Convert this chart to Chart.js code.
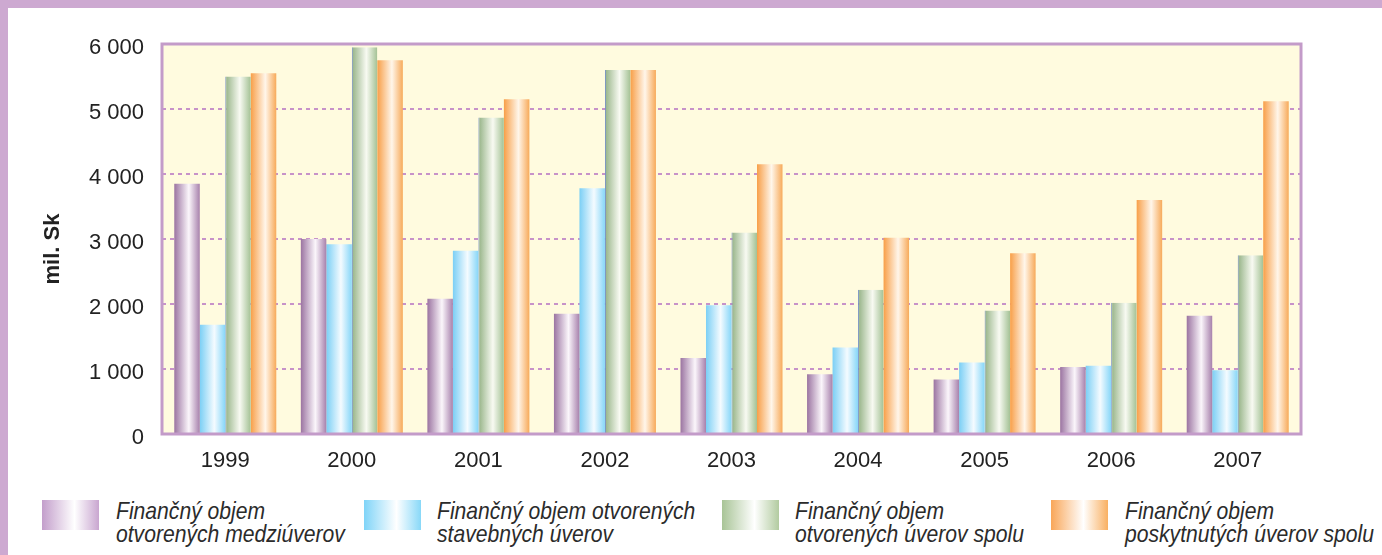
<!DOCTYPE html>
<html>
<head>
<meta charset="utf-8">
<script src="https://cdn.jsdelivr.net/npm/chart.js@4.4.1/dist/chart.umd.min.js"></script>
<style>
  body { margin: 0; background: #fff; width: 1382px; height: 555px; overflow: hidden; position: relative;
         font-family: "Liberation Sans", Arial, sans-serif; }
  #band { position: absolute; left: 0; top: 0; width: 1382px; height: 8px; background: #cda9d1; }
  #strip { position: absolute; left: 0; top: 0; width: 8px; height: 555px; background: #cda9d1; }
  #wrap { position: absolute; left: 0; top: 0; width: 1382px; height: 490px; }
  .sw { position: absolute; top: 500px; width: 57px; height: 30px; }
  .lt { position: absolute; top: 499px; font-style: italic; font-size: 24px; line-height: 23px;
        color: #2b2b2b; white-space: nowrap; transform: scaleX(0.88); transform-origin: 0 0; }
</style>
</head>
<body>
<div id="wrap"><canvas id="chart" width="1382" height="490"></canvas></div>
<div id="band"></div>
<div id="strip"></div>
<div id="legend"></div>
<script>
// data
const years = ['1999', '2000', '2001', '2002', '2003', '2004', '2005', '2006', '2007'];
const medziuvery = [3850, 3000, 2080, 1850, 1170, 920, 840, 1030, 1820];
const stavebneUvery = [1680, 2920, 2820, 3780, 1980, 1330, 1100, 1050, 980];
const otvoreneSpolu = [5500, 5950, 4870, 5600, 3100, 2220, 1900, 2020, 2750];
const poskytnuteSpolu = [5550, 5750, 5150, 5600, 4150, 3020, 2780, 3600, 5120];
const seriesNames = [
  ['Finančný objem', 'otvorených medziúverov'],
  ['Finančný objem otvorených', 'stavebných úverov'],
  ['Finančný objem', 'otvorených úverov spolu'],
  ['Finančný objem', 'poskytnutých úverov spolu']
];
const yTickLabels = ['0', '1 000', '2 000', '3 000', '4 000', '5 000', '6 000'];

// gradient stops per series: left edge, highlight, right edge
const barStops = [
  ['#9b74a1', '#fbf6fb', '#a781ac'],
  ['#7bcff5', '#f4fbff', '#86d6f8'],
  ['#94b285', '#f8faf2', '#a3c194'],
  ['#f89f48', '#fff6ea', '#f7aa5a']
];
const swatchStops = [
  ['#c39ecb', '#ffffff', '#c9a6d0'],
  ['#7fd4f8', '#ffffff', '#88d8f8'],
  ['#a8c496', '#ffffff', '#b2cba0'],
  ['#f9a658', '#ffffff', '#f9b062']
];

const CAT_PCT = 0.806;
const FONT = '"Liberation Sans", Arial, sans-serif';

function barFill(c) {
  const stops = barStops[c.datasetIndex];
  const ch = c.chart;
  const xs = ch.scales && ch.scales.x;
  if (c.type !== 'data' || !xs) return stops[0];
  const center = xs.getPixelForValue(c.dataIndex);
  const cw = xs.getPixelForValue(1) - xs.getPixelForValue(0);
  if (!isFinite(center) || !isFinite(cw) || cw <= 0) return stops[0];
  const bw = cw * CAT_PCT / 4;
  const left = center - cw * CAT_PCT / 2 + c.datasetIndex * bw;
  const g = ch.ctx.createLinearGradient(left, 0, left + bw, 0);
  g.addColorStop(0, stops[0]);
  g.addColorStop(0.57, stops[1]);
  g.addColorStop(1, stops[2]);
  return g;
}

const frame = {
  id: 'frame',
  beforeDraw(chart) {
    const a = chart.chartArea, ctx = chart.ctx;
    ctx.save();
    ctx.fillStyle = '#fffbdf';
    ctx.fillRect(a.left, a.top, a.right - a.left, a.bottom - a.top);
    ctx.restore();
  },
  afterDatasetsDraw(chart) {
    const a = chart.chartArea, ctx = chart.ctx;
    ctx.save();
    ctx.strokeStyle = '#c39bc9';
    ctx.lineWidth = 3;
    ctx.strokeRect(a.left, a.top, a.right - a.left, a.bottom - a.top);
    ctx.restore();
  },
  afterDraw(chart) {
    const ctx = chart.ctx;
    ctx.save();
    ctx.translate(53, 249);
    ctx.rotate(-Math.PI / 2);
    ctx.font = 'bold 22px ' + FONT;
    ctx.fillStyle = '#222';
    ctx.textAlign = 'center';
    ctx.textBaseline = 'middle';
    ctx.fillText('mil. Sk', 0, 0);
    ctx.restore();
  }
};

const seriesData = [medziuvery, stavebneUvery, otvoreneSpolu, poskytnuteSpolu];

new Chart(document.getElementById('chart'), {
  type: 'bar',
  data: {
    labels: years,
    datasets: seriesData.map((d, i) => ({
      label: seriesNames[i].join(' '),
      data: d,
      backgroundColor: barFill,
      borderColor: '#7590c2',
      borderWidth: i === 2 ? { left: 1, top: 0, right: 0, bottom: 0 } : 0,
      borderSkipped: false,
      categoryPercentage: CAT_PCT,
      barPercentage: 1
    }))
  },
  options: {
    responsive: false,
    animation: false,
    layout: { padding: { top: 44, right: 81, left: 0, bottom: 0 } },
    plugins: { legend: { display: false }, tooltip: { enabled: false } },
    scales: {
      x: {
        grid: { display: false },
        border: { display: false },
        ticks: { padding: 6, color: '#222', font: { size: 22, family: FONT } },
        afterFit: s => { s.height = 56; }
      },
      y: {
        min: 0,
        max: 6000,
        afterFit: s => { s.width = 162; },
        ticks: {
          stepSize: 1000,
          padding: 18,
          labelOffset: 4,
          color: '#222',
          font: { size: 22, family: FONT },
          callback: v => yTickLabels[Math.round(v / 1000)]
        },
        grid: { color: '#c792c9', lineWidth: 2, drawTicks: false },
        border: { display: false, dash: [4, 4] }
      }
    }
  },
  plugins: [frame]
});

// legend below the plot
const swatchX = [42, 364, 722, 1051];
const textX = [116, 437, 795, 1125];
const legend = document.getElementById('legend');
seriesNames.forEach((lines, i) => {
  const s = swatchStops[i];
  const sw = document.createElement('div');
  sw.className = 'sw';
  sw.style.left = swatchX[i] + 'px';
  sw.style.background = `linear-gradient(to right, ${s[0]} 0%, ${s[1]} 57%, ${s[2]} 100%)`;
  legend.appendChild(sw);
  const t = document.createElement('div');
  t.className = 'lt';
  t.style.left = textX[i] + 'px';
  t.innerHTML = lines.join('<br>');
  legend.appendChild(t);
});
</script>
</body>
</html>
